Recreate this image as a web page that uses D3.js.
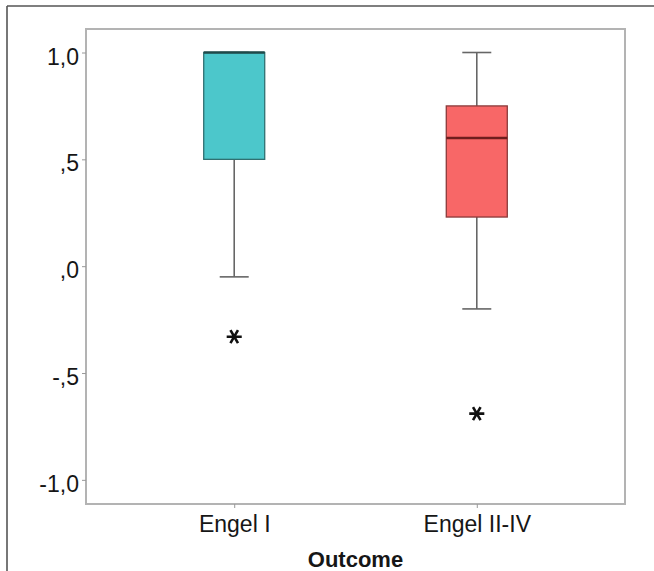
<!DOCTYPE html>
<html><head><meta charset="utf-8">
<script src="https://cdn.jsdelivr.net/npm/d3@7"></script>
<style>body{margin:0;background:#fff;}svg{display:block;font-family:"Liberation Sans",Arial,sans-serif;}</style>
</head><body><svg id="c" width="654" height="571"></svg>
<script>
const categories = ["Engel I", "Engel II-IV"];
const lowerWhisker = [-0.05, -0.20];
const q1 = [0.50, 0.23];
const median = [1.00, 0.60];
const q3 = [1.00, 0.75];
const upperWhisker = [1.00, 1.00];
const outliers = [[-0.33], [-0.69]];
const yTicks = [1.0, 0.5, 0.0, -0.5, -1.0];
const yTickLabels = ["1,0", ",5", ",0", "-,5", "-1,0"];
const fills = ["#4cc7cb", "#f86767"];
const strokes = ["#2f6f70", "#8a3a3a"];
const medianColors = ["#1f4a4a", "#6e1e1e"];

const svg = d3.select("#c");
const L = 86, R = 625, T = 29, B = 504;
const y = d3.scaleLinear().domain([-1.113, 1.11]).range([B, T]);
const x = d3.scalePoint().domain(categories).range([L, R]).padding(0.611);

// outer figure frame
svg.append("line").attr("x1", 7).attr("x2", 654).attr("y1", 6).attr("y2", 6).attr("stroke", "#555").attr("stroke-width", 1.6);
svg.append("line").attr("x1", 7).attr("x2", 7).attr("y1", 6).attr("y2", 571).attr("stroke", "#555").attr("stroke-width", 1.6);

// plot frame
svg.append("rect").attr("x", L).attr("y", T).attr("width", R - L).attr("height", B - T)
  .attr("fill", "none").attr("stroke", "#b3b3b3").attr("stroke-width", 2);

// y axis
const yAxis = d3.axisLeft(y).tickValues(yTicks).tickSize(4).tickPadding(3)
  .tickFormat((d, i) => yTickLabels[i]);
const gy = svg.append("g").attr("transform", `translate(${L},0)`).call(yAxis);
gy.select(".domain").remove();
gy.selectAll(".tick line").attr("stroke", "#999");
gy.selectAll(".tick text").attr("font-size", 23).attr("fill", "#161616").attr("dy", "0.5em")
  .attr("font-family", "'Liberation Sans',Arial,sans-serif");

// x axis
const xAxis = d3.axisBottom(x).tickSize(4).tickPadding(8);
const gx = svg.append("g").attr("transform", `translate(0,${B})`).call(xAxis);
gx.select(".domain").remove();
gx.selectAll(".tick line").attr("stroke", "#999");
gx.selectAll(".tick text").attr("font-size", 23).attr("fill", "#161616")
  .attr("font-family", "'Liberation Sans',Arial,sans-serif");

svg.append("text").attr("x", (L + R) / 2).attr("y", 567).attr("text-anchor", "middle")
  .attr("font-size", 22).attr("font-weight", "bold").attr("fill", "#161616").text("Outcome");

const boxW = 61, capW = 29;
categories.forEach((c, i) => {
  const cx = x(c);
  const g = svg.append("g");
  // whiskers
  g.append("line").attr("x1", cx).attr("x2", cx).attr("y1", y(q3[i])).attr("y2", y(upperWhisker[i]))
    .attr("stroke", "#666").attr("stroke-width", 1.6);
  g.append("line").attr("x1", cx).attr("x2", cx).attr("y1", y(q1[i])).attr("y2", y(lowerWhisker[i]))
    .attr("stroke", "#666").attr("stroke-width", 1.6);
  [upperWhisker[i], lowerWhisker[i]].forEach(v => {
    g.append("line").attr("x1", cx - capW / 2).attr("x2", cx + capW / 2).attr("y1", y(v)).attr("y2", y(v))
      .attr("stroke", "#666").attr("stroke-width", 1.6);
  });
  // box
  g.append("rect").attr("x", cx - boxW / 2).attr("y", y(q3[i])).attr("width", boxW)
    .attr("height", y(q1[i]) - y(q3[i])).attr("fill", fills[i]).attr("stroke", strokes[i]).attr("stroke-width", 1.3);
  // median
  g.append("line").attr("x1", cx - boxW / 2).attr("x2", cx + boxW / 2).attr("y1", y(median[i])).attr("y2", y(median[i]))
    .attr("stroke", medianColors[i]).attr("stroke-width", 2.4);
  // outliers
  outliers[i].forEach(v => {
    g.append("path").attr("d", d3.symbol().type(d3.symbolAsterisk).size(160)())
      .attr("transform", `translate(${cx},${y(v)}) rotate(90)`)
      .attr("stroke", "#111").attr("stroke-width", 2.6).attr("fill", "none");
  });
});
</script></body></html>
